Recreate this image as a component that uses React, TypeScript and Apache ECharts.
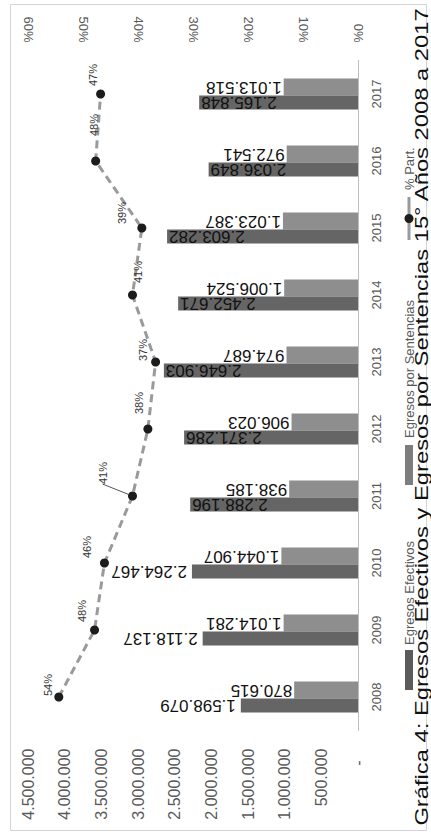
import React, { useEffect, useRef } from "react";
import * as echarts from "echarts";

const years = ["2008", "2009", "2010", "2011", "2012", "2013", "2014", "2015", "2016", "2017"];
const egresosEfectivos = [1598079, 2118137, 2264467, 2288196, 2371286, 2646903, 2452671, 2603282, 2036849, 2165848];
const egresosSentencias = [870615, 1014281, 1044907, 938185, 906023, 974687, 1006524, 1023387, 972541, 1013518];
const partPct = [54.4, 47.9, 46.1, 41.0, 38.2, 36.8, 41.0, 39.3, 47.7, 46.8];

const valueMax = 4500000;
const valueStep = 500000;
const pctMax = 60;
const pctStep = 10;

const titleText = "Gráfica 4: Egresos Efectivos y Egresos por Sentencias 15° Años 2008 a 2017";
const legendNames = ["Egresos Efectivos", "Egresos por Sentencias", "% Part."];

// screen offsets (style only) for percentage labels [sx, sy]
const pctOffsets = [
  [-11, -12],
  [-13, -19],
  [-17, -16],
  [-30, -23],
  [-9, -26],
  [-13, -12],
  [5, -23],
  [-20, -15],
  [-2, -36],
  [-8, -19],
];

const FONT = "Liberation Sans";

const fmt = (n: number) => String(Math.round(n)).replace(/\B(?=(\d{3})+(?!\d))/g, ".");

export default function App() {
  const ref = useRef<HTMLDivElement>(null);

  useEffect(() => {
    document.body.style.margin = "0";
    if (!ref.current) return;
    const chart = echarts.init(ref.current, undefined, { renderer: "svg" });

    const outsideLabel = {
      show: true,
      position: "left",
      distance: 5,
      rotate: 180,
      align: "left",
      verticalAlign: "middle",
      fontSize: 17,
      fontFamily: FONT,
      color: "#111",
      formatter: (p: any) => fmt(p.value),
    };
    const insideLabel = { ...outsideLabel, position: "insideLeft", distance: 2, align: "right" };

    const legendText = (text: string, x: number, y: number) => ({
      type: "text",
      x,
      y,
      rotation: Math.PI / 2,
      style: { text, align: "left", verticalAlign: "middle", fontSize: 13, fontFamily: FONT, fill: "#595959" },
    });

    const option: any = {
      animation: false,
      backgroundColor: "#ffffff",
      grid: { left: 28, right: 73, top: 60.5, bottom: 104.5, containLabel: false, outerBoundsMode: "none" },
      xAxis: [
        {
          type: "value",
          min: 0,
          max: valueMax,
          interval: valueStep,
          inverse: true,
          position: "bottom",
          axisLine: { show: false },
          axisTick: { show: false },
          splitLine: { show: false },
          axisLabel: {
            rotate: 90,
            margin: 18,
            fontSize: 16,
            fontFamily: FONT,
            color: "#595959",
            formatter: (v: number) => (v === 0 ? "{d|-}" : fmt(v)),
            rich: { d: { padding: [0, 12, 0, 0], fontSize: 16, fontFamily: FONT, color: "#595959" } },
          },
        },
        {
          type: "value",
          min: 0,
          max: pctMax,
          interval: pctStep,
          inverse: true,
          position: "top",
          axisLine: { show: false },
          axisTick: { show: false },
          splitLine: { show: false },
          axisLabel: { rotate: 90, margin: 18, fontSize: 13, fontFamily: FONT, color: "#595959", formatter: "{value}%" },
        },
      ],
      yAxis: [
        {
          type: "category",
          data: years,
          position: "right",
          axisLine: { show: true, lineStyle: { color: "#bdbdbd", width: 1 } },
          axisTick: { show: false },
          splitLine: { show: false },
          axisLabel: { rotate: 90, margin: 12, fontSize: 13, fontFamily: FONT, color: "#595959" },
        },
      ],
      series: [
        {
          type: "bar",
          name: legendNames[1],
          barWidth: 17,
          barGap: "0%",
          itemStyle: { color: "#8e8e8e" },
          data: egresosSentencias,
          label: { ...outsideLabel, distance: 2 },
        },
        {
          type: "bar",
          name: legendNames[0],
          barWidth: 14,
          barGap: "0%",
          itemStyle: { color: "#656565" },
          data: egresosEfectivos.map((v, i) => ({ value: v, label: i < 3 ? outsideLabel : insideLabel })),
          label: insideLabel,
        },
        {
          type: "line",
          name: legendNames[2],
          xAxisIndex: 1,
          yAxisIndex: 0,
          data: partPct.map((v, i) => (i === 3 ? { value: v, labelLine: { show: true } } : { value: v })),
          symbol: "circle",
          symbolSize: 9,
          itemStyle: { color: "#1c1c1c" },
          lineStyle: { color: "#9a9a9a", width: 3, type: [8, 5] },
          label: {
            show: true,
            position: "inside",
            rotate: 90,
            fontSize: 11,
            fontFamily: FONT,
            color: "#333",
            formatter: (p: any) => Math.round(p.value) + "%",
          },
          labelLine: { show: false, lineStyle: { color: "#555", width: 1 } },
          labelLayout: (p: any) => ({ dx: -pctOffsets[p.dataIndex][1], dy: pctOffsets[p.dataIndex][0] }),
          z: 5,
        },
      ],
      graphic: [
        {
          type: "rect",
          shape: { x: 10.5, y: 4.5, width: 416, height: 826 },
          style: { fill: "none", stroke: "#d4d4d4", lineWidth: 1 },
          silent: true,
          z: -1,
        },
        {
          type: "text",
          x: 422,
          y: 417,
          rotation: Math.PI / 2,
          scaleX: 1.32,
          style: { text: titleText, align: "center", verticalAlign: "middle", fontSize: 18, fontFamily: FONT, fill: "#111" },
        },
        // legend: Egresos Efectivos
        { type: "rect", shape: { x: 405, y: 650, width: 8, height: 40 }, style: { fill: "#5b5b5b" } },
        legendText(legendNames[0], 409, 645),
        // legend: Egresos por Sentencias
        { type: "rect", shape: { x: 405, y: 445, width: 8, height: 40 }, style: { fill: "#7d7d7d" } },
        legendText(legendNames[1], 409, 438),
        // legend: % Part.
        { type: "line", shape: { x1: 409, y1: 240, x2: 409, y2: 197 }, style: { stroke: "#9a9a9a", lineWidth: 3 } },
        { type: "circle", shape: { cx: 409, cy: 218.5, r: 4.5 }, style: { fill: "#1c1c1c" } },
        legendText(legendNames[2], 409, 190),
      ],
    };

    chart.setOption(option);
    return () => chart.dispose();
  }, []);

  return <div ref={ref} style={{ position: "absolute", left: 0, top: 0, width: 431, height: 835 }} />;
}
